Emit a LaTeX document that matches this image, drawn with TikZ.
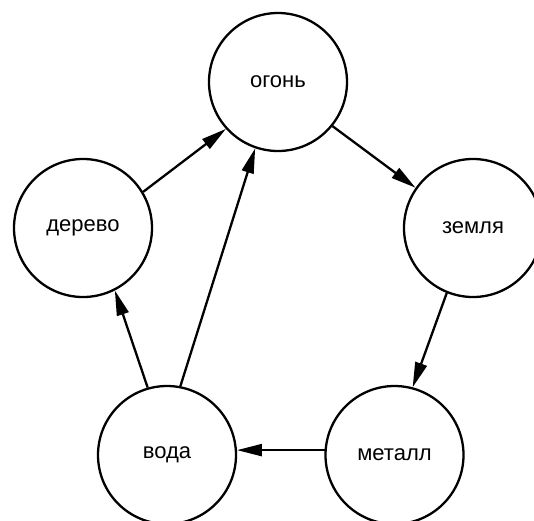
\documentclass[tikz,border=0pt]{standalone}
\usepackage{fontspec}
\setmainfont{Liberation Sans}
\usetikzlibrary{arrows.meta}
\begin{document}
\begin{tikzpicture}[x=1pt,y=-1pt,
  elem/.style={circle,draw,line width=2.3pt,minimum size=138pt,inner sep=0pt,
    font=\fontsize{22}{26}\selectfont},
  link/.style={line width=2.3pt,-{Triangle[length=25pt,width=12pt]}}]
\useasboundingbox (0,0) rectangle (534,520);
\node[elem] (fire)  at (278,82)    {огонь};
\node[elem] (earth) at (473,228)   {земля};
\node[elem] (metal) at (394.5,455) {металл};
\node[elem] (water) at (167,455)   {вода};
\node[elem] (wood)  at (83,228)    {дерево};
\draw[link] (wood.31)    -- (fire.222);
\draw[link] (water.79)   -- (fire.251);
\draw[link] (fire.-39)   -- (earth.145);
\draw[link] (earth.248)  -- (metal.75);
\draw[link] (metal.176)  -- (water.4);
\draw[link] (water.106)  -- (wood.297);
\end{tikzpicture}
\end{document}
